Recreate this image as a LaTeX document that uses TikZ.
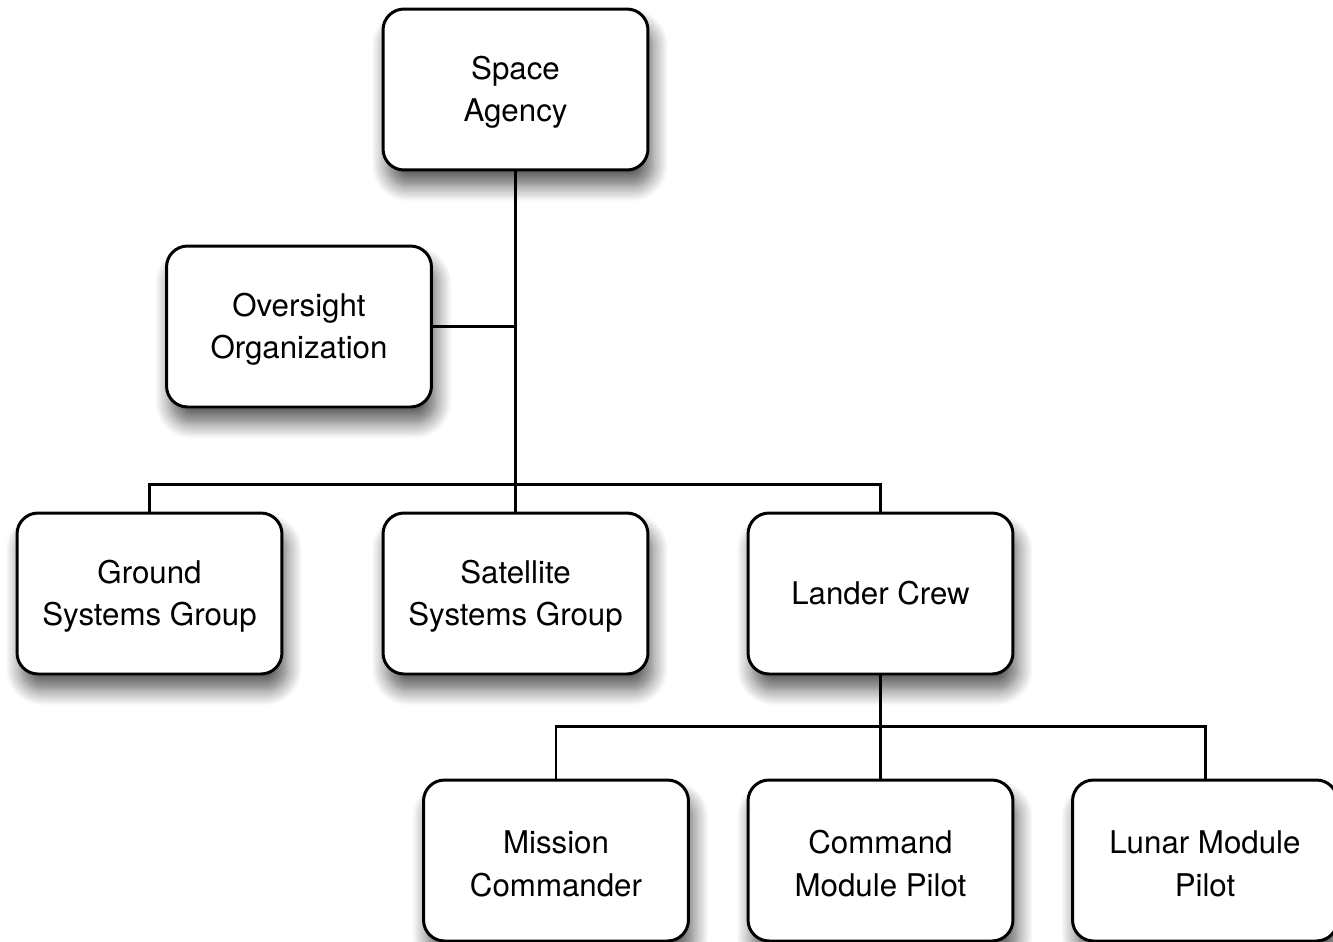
\documentclass[tikz,border=0pt]{standalone}
\usepackage{fontspec}
\setmainfont{TeX Gyre Heros}
\usetikzlibrary{shadows.blur}
\begin{document}
\begin{tikzpicture}[
  x=0.02cm, y=-0.02cm,
  orgbox/.style={draw, line width=1.7pt, rounded corners=0.42cm, fill=white,
    minimum width=5.3cm, minimum height=3.22cm, align=center,
    font=\fontsize{17.8}{24}\selectfont,
    blur shadow={shadow xshift=2.5pt, shadow yshift=-9pt, shadow blur radius=9pt, shadow blur steps=14, shadow opacity=65}},
  link/.style={line width=1.7pt}
]
\useasboundingbox (0,0) rectangle (1333,941);
\node[orgbox] (sa) at (515.5,89.5) {\strut Space\\Agency};
\node[orgbox] (ov) at (299,326.5) {\strut Oversight\\Organization};
\node[orgbox] (gs) at (149.5,593.5) {\strut Ground\\Systems Group};
\node[orgbox] (ss) at (515.5,593.5) {\strut Satellite\\Systems Group};
\node[orgbox] (lc) at (880.5,593.5) {Lander Crew};
\node[orgbox] (mc) at (556,860.5) {\strut Mission\\Commander};
\node[orgbox] (cm) at (880.5,860.5) {\strut Command\\Module Pilot};
\node[orgbox] (lm) at (1205,860.5) {\strut Lunar Module\\Pilot};
\coordinate (bar1) at (515.5,484);
\coordinate (bar2) at (880.5,726);
\draw[link] (sa.south) -- (ss.north);
\draw[link] (ov.east) -- (ov.east -| sa.south);
\draw[link] (gs.north) |- (bar1) -| (lc.north);
\draw[link] (lc.south) -- (cm.north);
\draw[link] (mc.north) |- (bar2) -| (lm.north);
\end{tikzpicture}
\end{document}
